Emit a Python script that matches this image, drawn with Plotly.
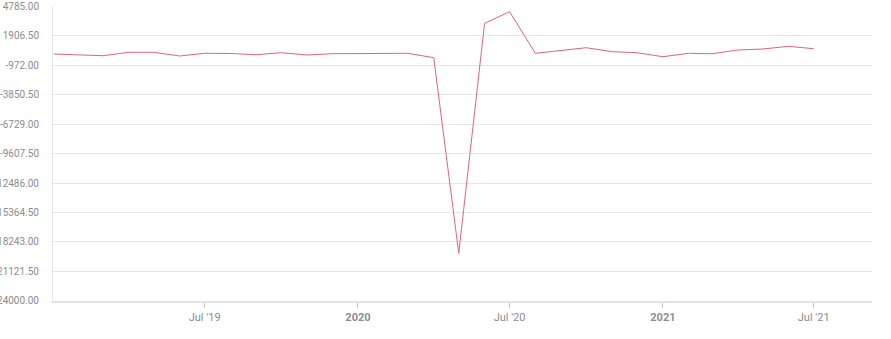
import plotly.graph_objects as go

months = [
    "2019-01-01", "2019-02-01", "2019-03-01", "2019-04-01", "2019-05-01", "2019-06-01",
    "2019-07-01", "2019-08-01", "2019-09-01", "2019-10-01", "2019-11-01", "2019-12-01",
    "2020-01-01", "2020-02-01", "2020-03-01", "2020-04-01", "2020-05-01", "2020-06-01",
    "2020-07-01", "2020-08-01", "2020-09-01", "2020-10-01", "2020-11-01", "2020-12-01",
    "2021-01-01", "2021-02-01", "2021-03-01", "2021-04-01", "2021-05-01", "2021-06-01",
    "2021-07-01",
]
values = [
    101, 52, -65, 267, 267, -94,
    169, 150, 33, 228, 4, 130,
    120, 140, 169, -260, -19350, 3097,
    4229, 169, 433, 716, 326, 228,
    -162, 169, 130, 491, 589, 853,
    618,
]

y_ticks = [4785.00, 1906.50, -972.00, -3850.50, -6729.00, -9607.50,
           -12486.00, -15364.50, -18243.00, -21121.50, -24000.00]
x_tick_dates = ["2019-07-01", "2020-01-01", "2020-07-01", "2021-01-01", "2021-07-01"]
x_tick_labels = ["Jul '19", "<b>2020</b>", "Jul '20", "<b>2021</b>", "Jul '21"]

fig = go.Figure()
fig.add_trace(go.Scatter(
    x=months, y=values, mode="lines",
    line=dict(color="#e2637b", width=1),
    hoverinfo="x+y", showlegend=False,
))

fig.update_layout(
    width=891, height=339,
    margin=dict(l=53, r=19, t=6, b=38),
    paper_bgcolor="white", plot_bgcolor="white",
    font=dict(family="Roboto", size=11, color="#8c8c8c"),
)
fig.update_xaxes(
    range=["2018-12-31", "2021-09-09"],
    tickvals=x_tick_dates, ticktext=x_tick_labels,
    showgrid=False, zeroline=False, automargin=False,
    showline=True, linecolor="#e3e3e3", linewidth=2,
    ticks="outside", ticklen=5, tickcolor="#cccccc", tickwidth=1,
    tickfont=dict(family="Roboto", size=11, color="#8c8c8c"),
)
fig.update_yaxes(
    range=[y_ticks[-1] - 1, y_ticks[0] + 1],
    tickvals=y_ticks, ticktext=[f"{v:.2f}" for v in y_ticks],
    showgrid=True, gridcolor="#e6e6e6", gridwidth=1,
    zeroline=False, automargin=False,
    showline=True, linecolor="#e6e6e6", linewidth=1,
    ticks="", ticklabelstandoff=11, ticklabeloverflow="allow",
    tickfont=dict(family="Roboto", size=10, color="#8c8c8c"),
)

fig.write_html("out.html")
